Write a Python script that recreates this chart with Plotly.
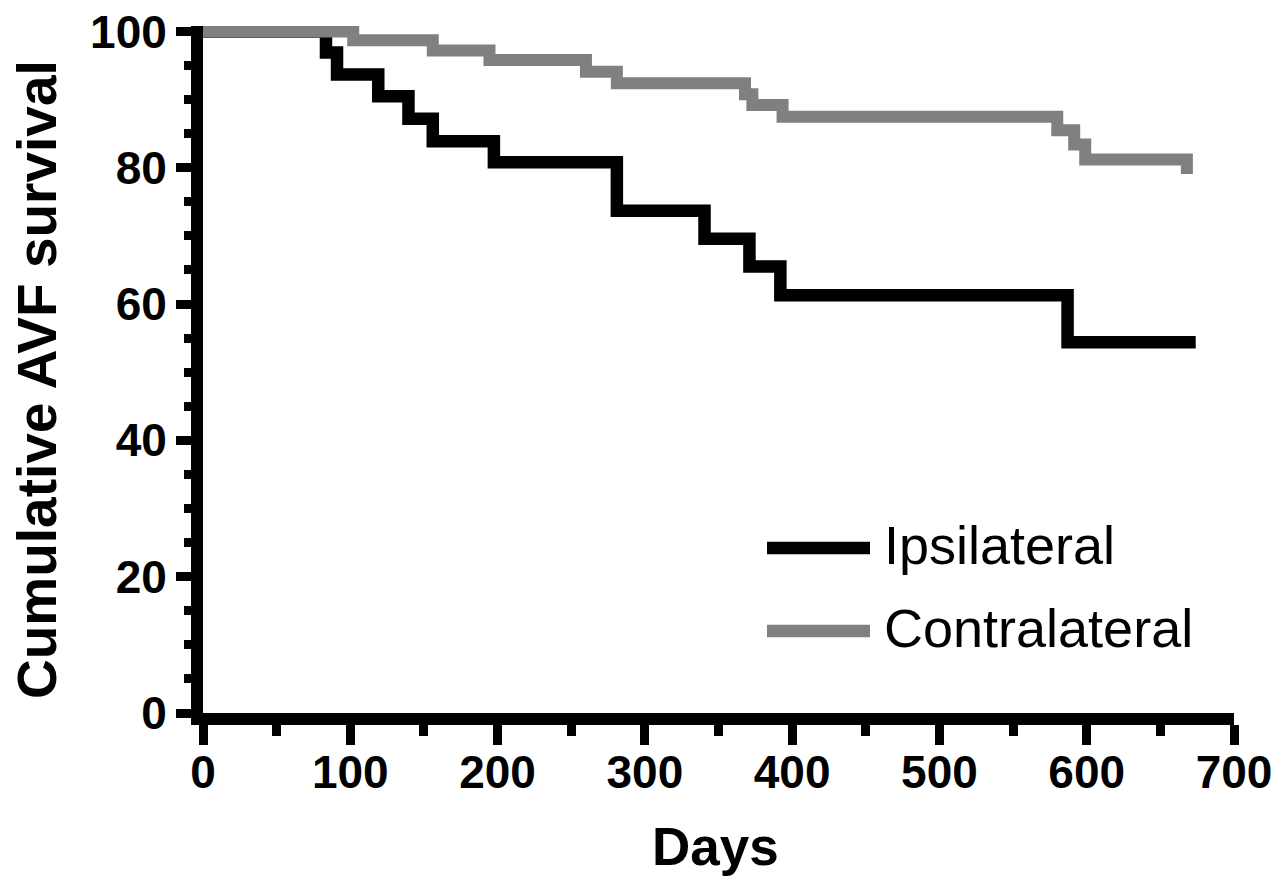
import plotly.graph_objects as go

# ---- data ----
ipsi_days = [0, 83.5, 91, 119, 139.5, 156, 197.5, 281, 340.5, 371, 392, 587, 674]
ipsi_surv = [100, 96.9, 93.7, 90.5, 87.2, 83.9, 80.8, 73.7, 69.6, 65.5, 61.3, 54.4, 54.4]

contra_days = [0, 102, 156, 194.5, 260, 281, 368, 373, 393.5, 580, 591.5, 599, 668]
contra_surv = [100, 98.7, 97.2, 95.8, 94.1, 92.4, 90.8, 89.2, 87.5, 85.5, 83.4, 81.2, 79.1]

x_ticks = [0, 100, 200, 300, 400, 500, 600, 700]
x_minor = [50, 150, 250, 350, 450, 550, 650]
y_ticks = [0, 20, 40, 60, 80, 100]
y_minor = [5, 10, 15, 25, 30, 35, 45, 50, 55, 65, 70, 75, 85, 90, 95]

series_names = ["Ipsilateral", "Contralateral"]
series_colors = ["#000000", "#808080"]

# ---- layout geometry (page pixels; page body margin removed below) ----
W, H = 1288, 879
L, R, T, B = 203, 1234, 26, 713


def px2x(px):
    return (px - L) / (R - L)


def py2y(py):
    return (B - py) / (B - T)


FONT = "Liberation Sans, Arial, Helvetica, sans-serif"

fig = go.Figure()
fig.add_trace(go.Scatter(x=ipsi_days, y=ipsi_surv, mode="lines", name=series_names[0],
                         line=dict(shape="hv", color=series_colors[0], width=12.5)))
fig.add_trace(go.Scatter(x=contra_days, y=contra_surv, mode="lines", name=series_names[1],
                         line=dict(shape="hv", color=series_colors[1], width=12)))

tickfont = dict(family=FONT, size=46, color="black", weight="bold")

fig.update_xaxes(range=[0, 700], tickvals=x_ticks, ticktext=[str(v) for v in x_ticks],
                 automargin=False, ticklabelstandoff=-12, ticklabeloverflow="allow",
                 showline=True, linewidth=12, linecolor="black",
                 ticks="outside", ticklen=20, tickwidth=9, tickcolor="black",
                 showgrid=False, zeroline=False, tickfont=tickfont,
                 minor=dict(tickvals=x_minor, ticks="outside", ticklen=11, tickwidth=9,
                            tickcolor="black", showgrid=False))
fig.update_yaxes(range=[0, 100.8], tickvals=y_ticks, ticktext=[str(v) for v in y_ticks],
                 automargin=False, ticklabeloverflow="allow",
                 showline=True, linewidth=12, linecolor="black",
                 ticks="outside", ticklen=15, tickwidth=9, tickcolor="black",
                 showgrid=False, zeroline=False, tickfont=tickfont,
                 minor=dict(tickvals=y_minor, ticks="outside", ticklen=7, tickwidth=9,
                            tickcolor="black", showgrid=False))

annotations = [
    dict(text="<b>Cumulative AVF survival</b>", x=px2x(37), y=py2y(380), xref="paper", yref="paper",
         textangle=-90, showarrow=False, xanchor="center", yanchor="middle",
         font=dict(family=FONT, size=55, color="black")),
    dict(text="<b>Days</b>", x=px2x(715), y=py2y(846), xref="paper", yref="paper",
         showarrow=False, xanchor="center", yanchor="middle",
         font=dict(family=FONT, size=53, color="black")),
]
shapes = []
legend_y = [548, 631]
for name, color, ly in zip(series_names, series_colors, legend_y):
    shapes.append(dict(type="line", xref="paper", yref="paper",
                       x0=px2x(767), x1=px2x(870), y0=py2y(ly), y1=py2y(ly),
                       line=dict(color=color, width=12.5)))
    annotations.append(dict(text=name, x=px2x(882), y=py2y(ly - 3), xref="paper", yref="paper",
                            showarrow=False, xanchor="left", yanchor="middle",
                            font=dict(family=FONT, size=54, color="black")))

fig.update_layout(width=W, height=H, margin=dict(l=L, r=W - R, t=T, b=H - B, pad=0, autoexpand=False),
                  plot_bgcolor="white", paper_bgcolor="white", showlegend=False,
                  annotations=annotations, shapes=shapes)

fig.write_html("out.html", config={"displayModeBar": False},
               post_script="document.body.style.margin='0px';")
